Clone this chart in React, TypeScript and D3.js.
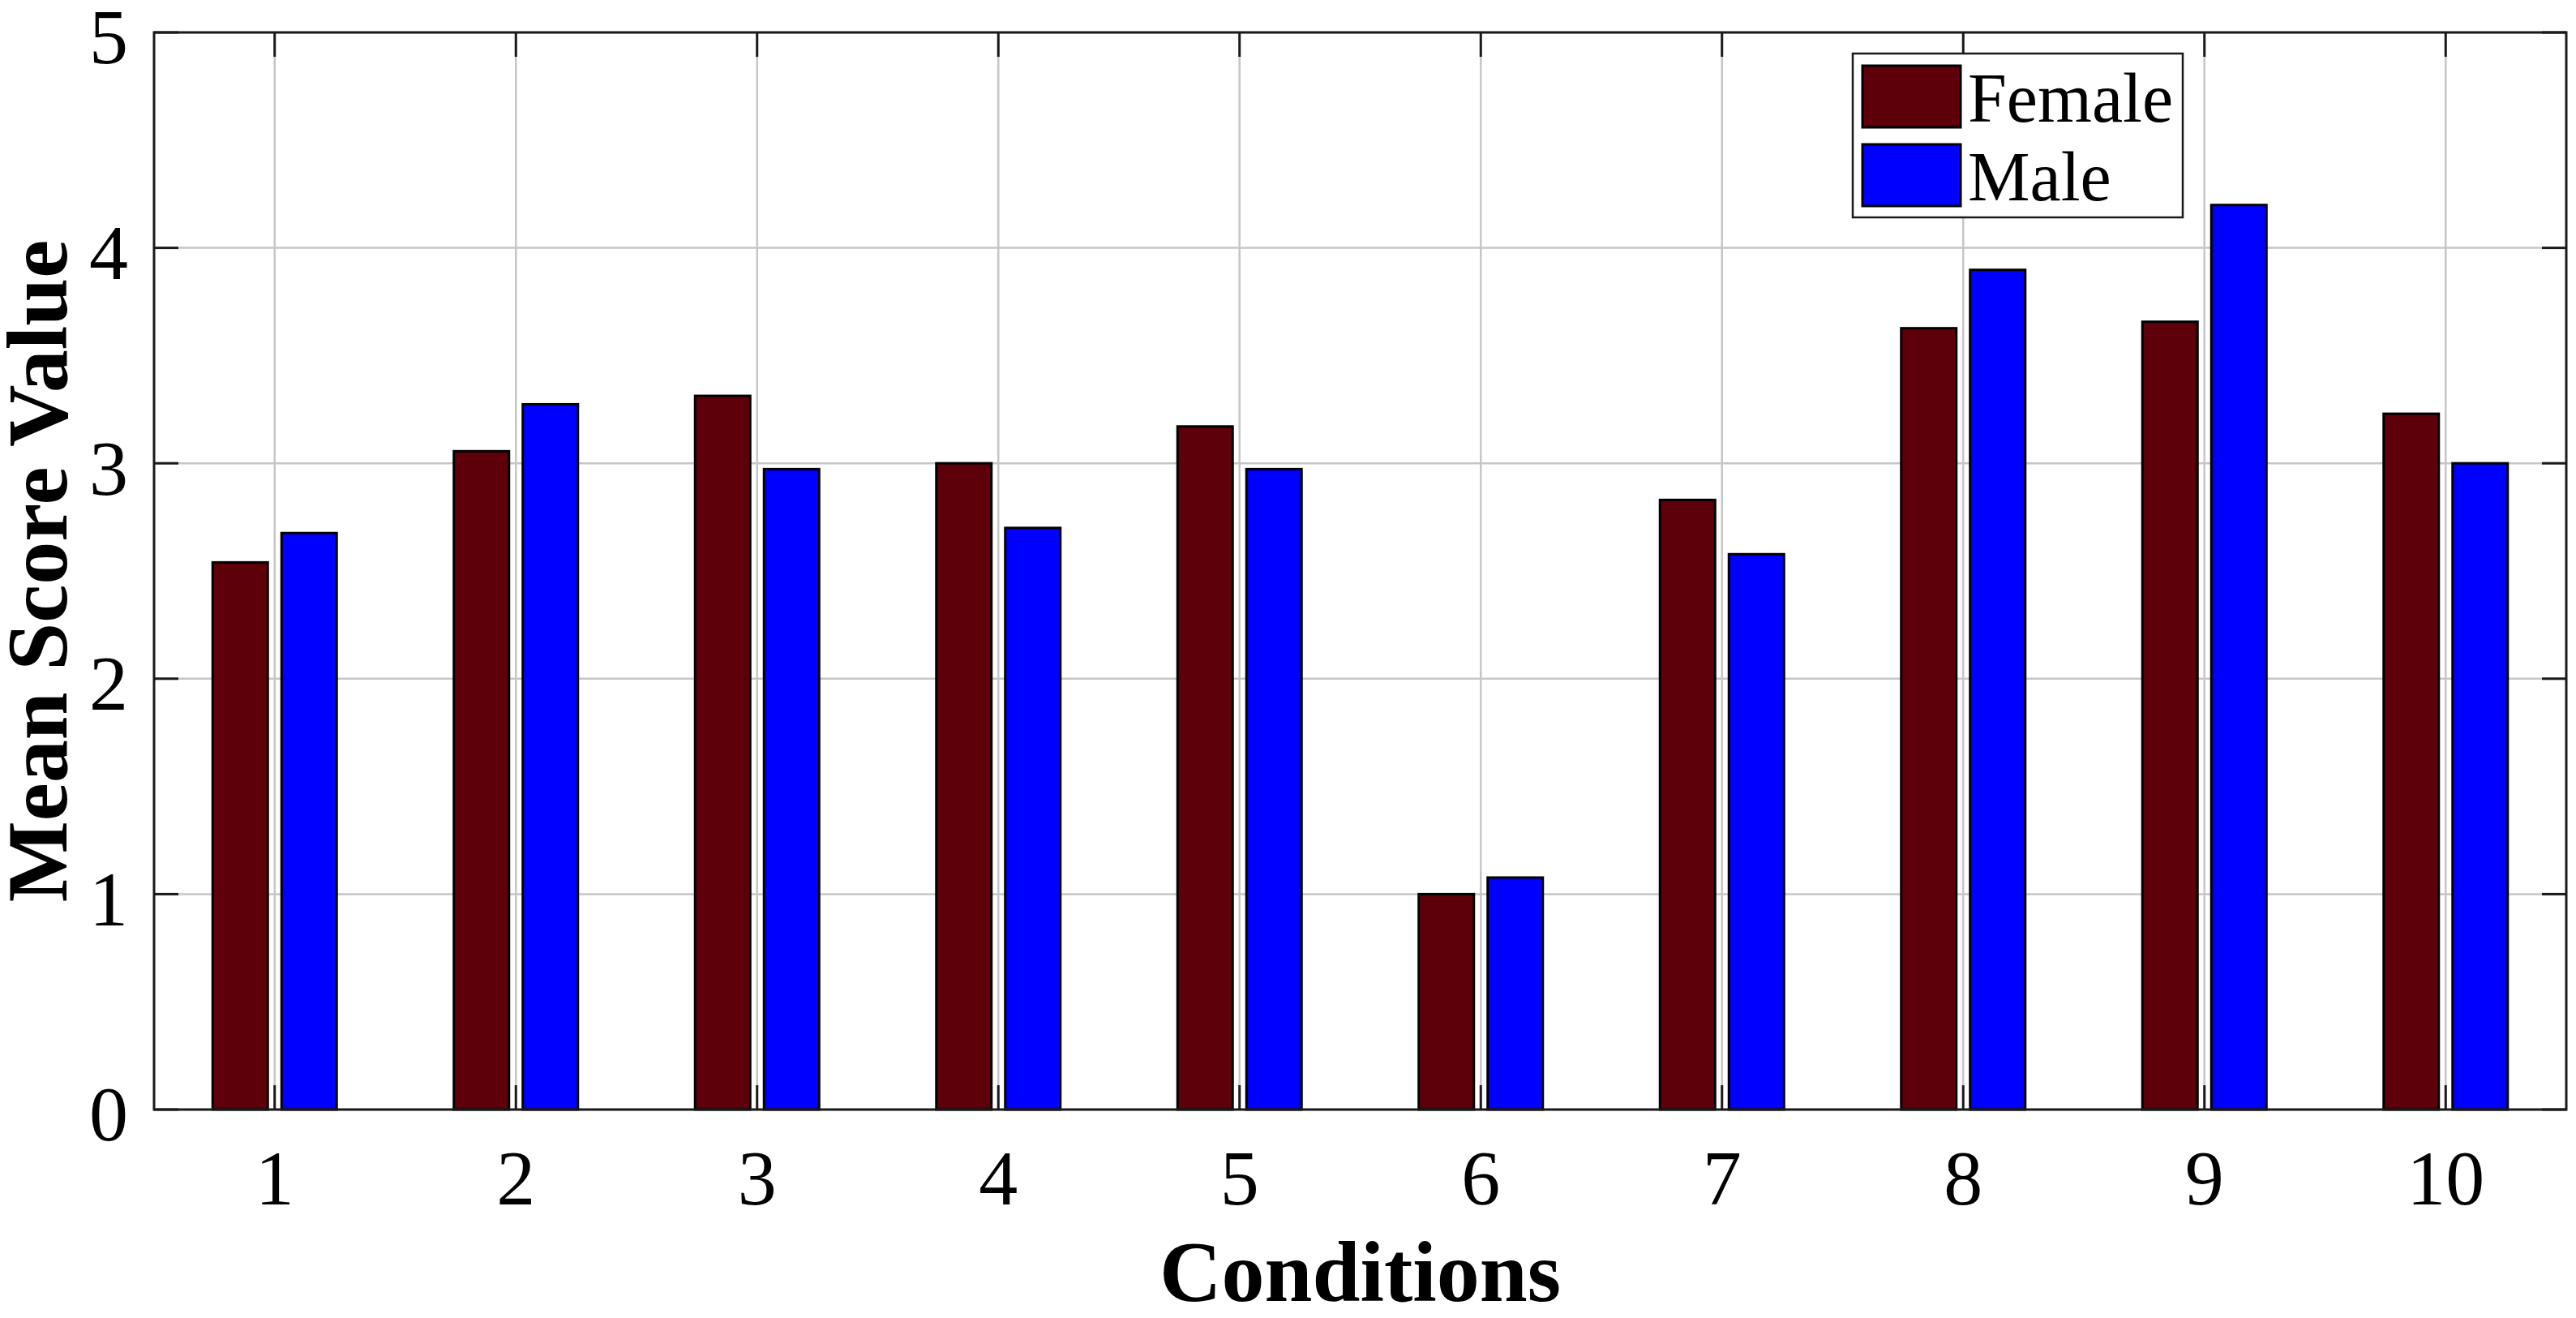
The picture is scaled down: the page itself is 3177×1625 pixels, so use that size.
import { useEffect, useRef } from "react";
import * as d3 from "d3";

// Chart data
const conditions = [1, 2, 3, 4, 5, 6, 7, 8, 9, 10];
const femaleScores = [2.54, 3.056, 3.313, 3.0, 3.171, 1.0, 2.83, 3.627, 3.657, 3.23];
const maleScores = [2.676, 3.274, 2.973, 2.70, 2.973, 1.077, 2.578, 3.898, 4.199, 3.0];
const seriesNames = ["Female", "Male"];
const seriesColors = ["#5d0009", "#0000ff"];
const yTicks = [0, 1, 2, 3, 4, 5];

export default function App() {
    const svgRef = useRef<SVGSVGElement | null>(null);

    useEffect(() => {
        if (!svgRef.current) return;
        d3.select(svgRef.current).selectAll("*").remove();

        const width = 3177;
        const height = 1625;
        const margin = { top: 40, right: 12, bottom: 257, left: 190 };
        const innerWidth = width - margin.left - margin.right;
        const innerHeight = height - margin.top - margin.bottom;
        const font = "'Liberation Serif', 'Times New Roman', serif";
        const tickLen = 30;

        const svg = d3
            .select(svgRef.current)
            .attr("width", width)
            .attr("height", height)
            .style("font-family", font);

        svg.append("rect").attr("width", width).attr("height", height).attr("fill", "#ffffff");

        const g = svg.append("g").attr("transform", `translate(${margin.left},${margin.top})`);

        // Scales
        const x = d3.scaleLinear().domain([0.5, 10.5]).range([0, innerWidth]);
        const y = d3.scaleLinear().domain([0, 5]).range([innerHeight, 0]);

        // MATLAB style grouped bar layout
        const groupWidth = Math.min(0.8, 2 / (2 + 1.5));
        const slot = groupWidth / 2;
        const barW = slot * 0.8;
        const offsets = [-slot / 2, slot / 2];

        // Grid
        g.append("g")
            .selectAll("line")
            .data(conditions)
            .enter()
            .append("line")
            .attr("x1", (d) => x(d))
            .attr("x2", (d) => x(d))
            .attr("y1", 0)
            .attr("y2", innerHeight)
            .attr("stroke", "#c6c6c6")
            .attr("stroke-width", 2.5);

        g.append("g")
            .selectAll("line")
            .data(yTicks)
            .enter()
            .append("line")
            .attr("x1", 0)
            .attr("x2", innerWidth)
            .attr("y1", (d) => y(d))
            .attr("y2", (d) => y(d))
            .attr("stroke", "#c6c6c6")
            .attr("stroke-width", 2.5);

        // Bars
        const series = [femaleScores, maleScores];
        series.forEach((vals, si) => {
            g.append("g")
                .selectAll("rect")
                .data(vals)
                .enter()
                .append("rect")
                .attr("x", (d, i) => x(conditions[i] + offsets[si] - barW / 2))
                .attr("width", x(barW) - x(0))
                .attr("y", (d) => y(d))
                .attr("height", (d) => y(0) - y(d))
                .attr("fill", seriesColors[si])
                .attr("stroke", "#000000")
                .attr("stroke-width", 3);
        });

        // Ticks (inside, mirrored on all sides)
        const ticks = g.append("g").attr("stroke", "#1a1a1a").attr("stroke-width", 3);
        conditions.forEach((c) => {
            ticks.append("line").attr("x1", x(c)).attr("x2", x(c)).attr("y1", innerHeight).attr("y2", innerHeight - tickLen);
            ticks.append("line").attr("x1", x(c)).attr("x2", x(c)).attr("y1", 0).attr("y2", tickLen);
        });
        yTicks.forEach((t) => {
            ticks.append("line").attr("x1", 0).attr("x2", tickLen).attr("y1", y(t)).attr("y2", y(t));
            ticks.append("line").attr("x1", innerWidth).attr("x2", innerWidth - tickLen).attr("y1", y(t)).attr("y2", y(t));
        });

        // Axes box
        g.append("rect")
            .attr("width", innerWidth)
            .attr("height", innerHeight)
            .attr("fill", "none")
            .attr("stroke", "#1a1a1a")
            .attr("stroke-width", 3);

        // Tick labels
        g.append("g")
            .selectAll("text")
            .data(conditions)
            .enter()
            .append("text")
            .attr("x", (d) => x(d))
            .attr("y", innerHeight + 117)
            .attr("text-anchor", "middle")
            .attr("font-size", 96)
            .attr("fill", "#000")
            .text((d) => String(d));

        g.append("g")
            .selectAll("text")
            .data(yTicks)
            .enter()
            .append("text")
            .attr("x", -32)
            .attr("y", (d) => y(d))
            .attr("dy", "0.4em")
            .attr("text-anchor", "end")
            .attr("font-size", 96)
            .attr("fill", "#000")
            .text((d) => String(d));

        // Axis titles
        svg.append("text")
            .attr("x", margin.left + innerWidth / 2)
            .attr("y", 1604)
            .attr("text-anchor", "middle")
            .attr("font-size", 106)
            .attr("font-weight", "bold")
            .attr("fill", "#000")
            .text("Conditions");

        svg.append("text")
            .attr("transform", `translate(82,${margin.top + innerHeight / 2}) rotate(-90)`)
            .attr("text-anchor", "middle")
            .attr("font-size", 106)
            .attr("font-weight", "bold")
            .attr("fill", "#000")
            .text("Mean Score Value");

        // Legend
        const legend = svg.append("g").attr("transform", "translate(2285,66)");
        legend.append("rect")
            .attr("width", 407)
            .attr("height", 202)
            .attr("fill", "#ffffff")
            .attr("stroke", "#1a1a1a")
            .attr("stroke-width", 2.5);

        seriesNames.forEach((name, i) => {
            const row = legend.append("g").attr("transform", `translate(12,${15 + i * 97})`);
            row.append("rect")
                .attr("width", 121)
                .attr("height", 76)
                .attr("fill", seriesColors[i])
                .attr("stroke", "#000")
                .attr("stroke-width", 3);
            row.append("text")
                .attr("x", 130)
                .attr("y", 69)
                .attr("font-size", 86)
                .attr("fill", "#000")
                .text(name);
        });
    }, []);

    return (
        <svg
            ref={svgRef}
            style={{ position: "absolute", left: 0, top: 0, display: "block" }}
        />
    );
}
